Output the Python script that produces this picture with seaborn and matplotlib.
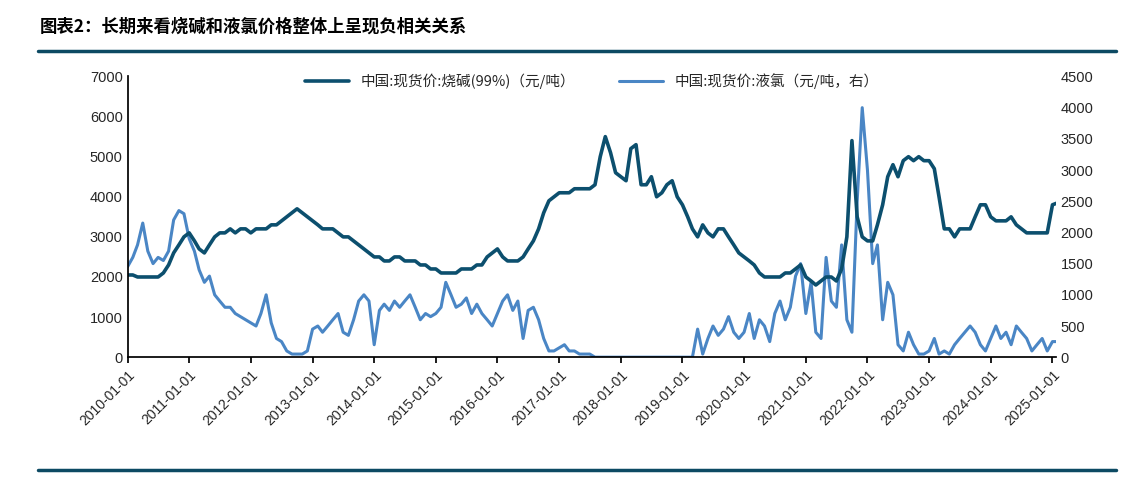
import numpy as np
import pandas as pd
import matplotlib
matplotlib.use("Agg")
import matplotlib.pyplot as plt
import seaborn as sns

# --- data (monthly) ---
soda = [
    2050, 2050, 2000, 2000, 2000, 2000, 2000, 2100, 2300, 2600, 2800, 3000,
    3100, 2900, 2700, 2600, 2800, 3000, 3100, 3100, 3200, 3100, 3200, 3200,
    3100, 3200, 3200, 3200, 3300, 3300, 3400, 3500, 3600, 3700, 3600, 3500,
    3400, 3300, 3200, 3200, 3200, 3100, 3000, 3000, 2900, 2800, 2700, 2600,
    2500, 2500, 2400, 2400, 2500, 2500, 2400, 2400, 2400, 2300, 2300, 2200,
    2200, 2100, 2100, 2100, 2100, 2200, 2200, 2200, 2300, 2300, 2500, 2600,
    2700, 2500, 2400, 2400, 2400, 2500, 2700, 2900, 3200, 3600, 3900, 4000,
    4100, 4100, 4100, 4200, 4200, 4200, 4200, 4300, 5000, 5500, 5100, 4600,
    4500, 4400, 5200, 5300, 4300, 4300, 4500, 4000, 4100, 4300, 4400, 4000,
    3800, 3500, 3200, 3000, 3300, 3100, 3000, 3200, 3200, 3000, 2800, 2600,
    2500, 2400, 2300, 2100, 2000, 2000, 2000, 2000, 2100, 2100, 2200, 2300,
    2000, 1900, 1800, 1900, 2000, 2000, 1900, 2200, 3000, 5400, 3500, 3000,
    2900, 2900, 3300, 3800, 4500, 4800, 4500, 4900, 5000, 4900, 5000, 4900,
    4900, 4700, 4000, 3200, 3200, 3000, 3200, 3200, 3200, 3500, 3800, 3800,
    3500, 3400, 3400, 3400, 3500, 3300, 3200, 3100, 3100, 3100, 3100, 3100,
    3800, 3850,
]
chlorine = [
    1450, 1600, 1800, 2150, 1700, 1500, 1600, 1550, 1700, 2200, 2350, 2300,
    1900, 1700, 1400, 1200, 1300, 1000, 900, 800, 800, 700, 650, 600,
    550, 500, 700, 1000, 550, 300, 250, 100, 50, 50, 50, 100,
    450, 500, 400, 500, 600, 700, 400, 350, 600, 900, 1000, 900,
    200, 750, 850, 750, 900, 800, 900, 1000, 800, 600, 700, 650,
    700, 800, 1200, 1000, 800, 850, 950, 700, 850, 700, 600, 500,
    700, 900, 1000, 750, 900, 300, 750, 800, 600, 300, 100, 100,
    150, 200, 100, 100, 50, 50, 50, 0, 0, 0, 0, 0,
    0, 0, 0, 0, 0, 0, 0, 0, 0, 0, 0, 0,
    0, 0, 0, 450, 50, 300, 500, 350, 450, 650, 400, 300,
    400, 700, 300, 600, 500, 250, 700, 900, 600, 800, 1300, 1500,
    700, 1200, 400, 300, 1600, 900, 800, 1800, 600, 400, 2500, 4000,
    3000, 1500, 1800, 600, 1200, 1000, 200, 100, 400, 200, 50, 50,
    100, 300, 50, 100, 50, 200, 300, 400, 500, 400, 200, 100,
    300, 500, 300, 400, 200, 500, 400, 300, 100, 200, 300, 100,
    250, 250,
]
dates = pd.date_range("2010-01-01", periods=len(soda), freq="MS")
tick_years = list(range(2010, 2026))

soda_label = "中国:现货价:烧碱(99%)（元/吨）"
cl_label = "中国:现货价:液氯（元/吨，右）"

sns.set_theme(style="white")
plt.rcParams["font.family"] = ["Noto Sans CJK SC", "DejaVu Sans"]

fig = plt.figure(figsize=(11.39, 4.84), dpi=100)
ax = fig.add_axes([0.112, 0.262, 0.815, 0.58])
ax2 = ax.twinx()

df = pd.DataFrame({"date": dates, "soda": soda, "cl": chlorine})
sns.lineplot(data=df, x="date", y="cl", ax=ax2, color="#4a86c5", lw=2.2, label=cl_label)
sns.lineplot(data=df, x="date", y="soda", ax=ax, color="#0c4f6e", lw=2.6, label=soda_label)
ax.set_zorder(ax2.get_zorder() + 1)
ax.patch.set_visible(False)

ax.set_ylim(0, 7000)
ax2.set_ylim(0, 4500)
ax.set_yticks(range(0, 7001, 1000))
ax2.set_yticks(range(0, 4501, 500))
ticks = pd.to_datetime([f"{y}-01-01" for y in tick_years])
ax.set_xlim(ticks[0], ticks[-1] + pd.Timedelta(days=20))
ax.set_xticks(ticks)
ax.set_xticklabels([t.strftime("%Y-%m-%d") for t in ticks], rotation=45, ha="right",
                   rotation_mode="anchor", fontsize=10, family="Liberation Sans")
for a in (ax, ax2):
    a.set_xlabel("")
    a.set_ylabel("")
    a.tick_params(axis="y", labelsize=10.5, length=0)
    for s in a.spines.values():
        s.set_visible(False)
    for lab in a.get_yticklabels():
        lab.set_family("Liberation Sans")
ax.spines["left"].set_visible(True)
ax.spines["bottom"].set_visible(True)
ax.spines["left"].set_color("black")
ax.spines["bottom"].set_color("black")
ax.tick_params(axis="x", length=4, direction="out", bottom=True, color="black")

h1, l1 = ax.get_legend_handles_labels()
h2, l2 = ax2.get_legend_handles_labels()
ax2.get_legend().remove()
ax.legend(h1 + h2, l1 + l2, ncol=2, frameon=False, loc="upper center",
          bbox_to_anchor=(0.5, 1.06), fontsize=10.5, columnspacing=3, handlelength=3)

fig.text(0.035, 0.935, "图表2：长期来看烧碱和液氯价格整体上呈现负相关关系",
         fontsize=12.5, fontweight="bold", style="italic", color="black")
fig.add_artist(plt.Line2D([0.033, 0.98], [0.895, 0.895], color="#0c4a63", lw=2.5))
fig.add_artist(plt.Line2D([0.033, 0.98], [0.028, 0.028], color="#0c4a63", lw=2.5))

fig.savefig("out.png", dpi=100)
